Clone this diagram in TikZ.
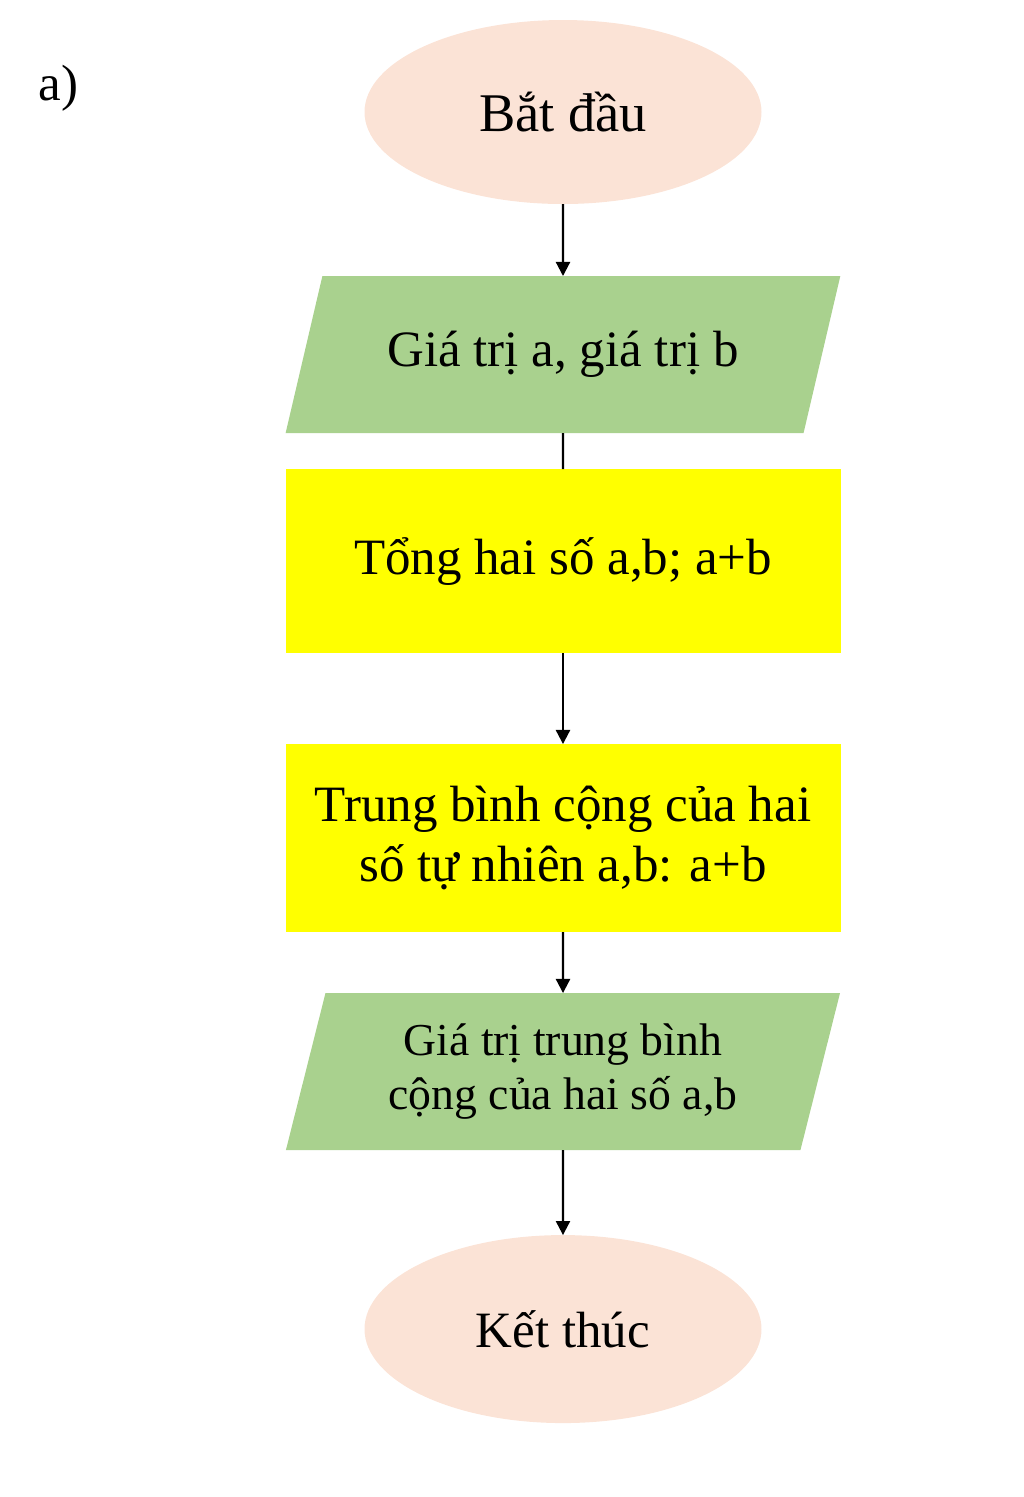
\documentclass[tikz,border=0pt]{standalone}
\usepackage{fontspec}
\setmainfont{Liberation Serif}
\usepackage{xcolor}
\usetikzlibrary{positioning,shapes.geometric,arrows.meta}

\definecolor{peach}{HTML}{FBE3D6}
\definecolor{leaf}{HTML}{A9D18E}
\definecolor{lemon}{HTML}{FFFF00}

\tikzset{
  terminal/.style={ellipse,fill=peach,minimum width=3.97cm,minimum height=1.84cm,inner sep=0pt,outer sep=0pt},
  io/.style={trapezium,trapezium stretches,fill=leaf,minimum width=5.55cm,minimum height=1.57cm,
    inner sep=0pt,outer sep=0pt,align=center},
  process/.style={rectangle,fill=lemon,minimum width=5.55cm,inner sep=0pt,outer sep=0pt,align=center},
  big/.style={font=\fontsize{14.5}{17}\selectfont},
  small/.style={font=\fontsize{13}{15.2}\selectfont}
}

\begin{document}
\begin{tikzpicture}[big]
  \useasboundingbox (0,0) rectangle (10.24,-14.97);
  \node [anchor=west,inner sep=0pt] (label) at (0.38,-0.88) {a)};
  \node [terminal,font=\fontsize{15.5}{18}\selectfont] (start) at (5.63,-1.12) {Bắt đầu};
  \node [io,trapezium left angle=60,trapezium right angle=120,below=0.72cm of start] (input) {Giá trị a, giá trị b};
  \node [process,minimum height=1.84cm,below=0.36cm of input] (sum) {Tổng hai số a,b; a+b};
  \node [process,minimum height=1.88cm,below=0.91cm of sum] (avg) {Trung bình cộng của hai\\số tự nhiên a,b: a+b};
  \node [io,small,trapezium left angle=73,trapezium right angle=107,below=0.61cm of avg] (output) {Giá trị trung bình\\cộng của hai số a,b};
  \node [terminal,minimum height=1.88cm,below=0.85cm of output] (stop) {Kết thúc};
  \path[-{Stealth[length=4pt,width=4pt,inset=0pt]},line width=0.6pt]
    (start) edge (input)
    (sum) edge (avg)
    (avg) edge (output)
    (output) edge (stop)
    ;
  \draw[line width=0.6pt] (input) -- (sum);
\end{tikzpicture}
\end{document}
